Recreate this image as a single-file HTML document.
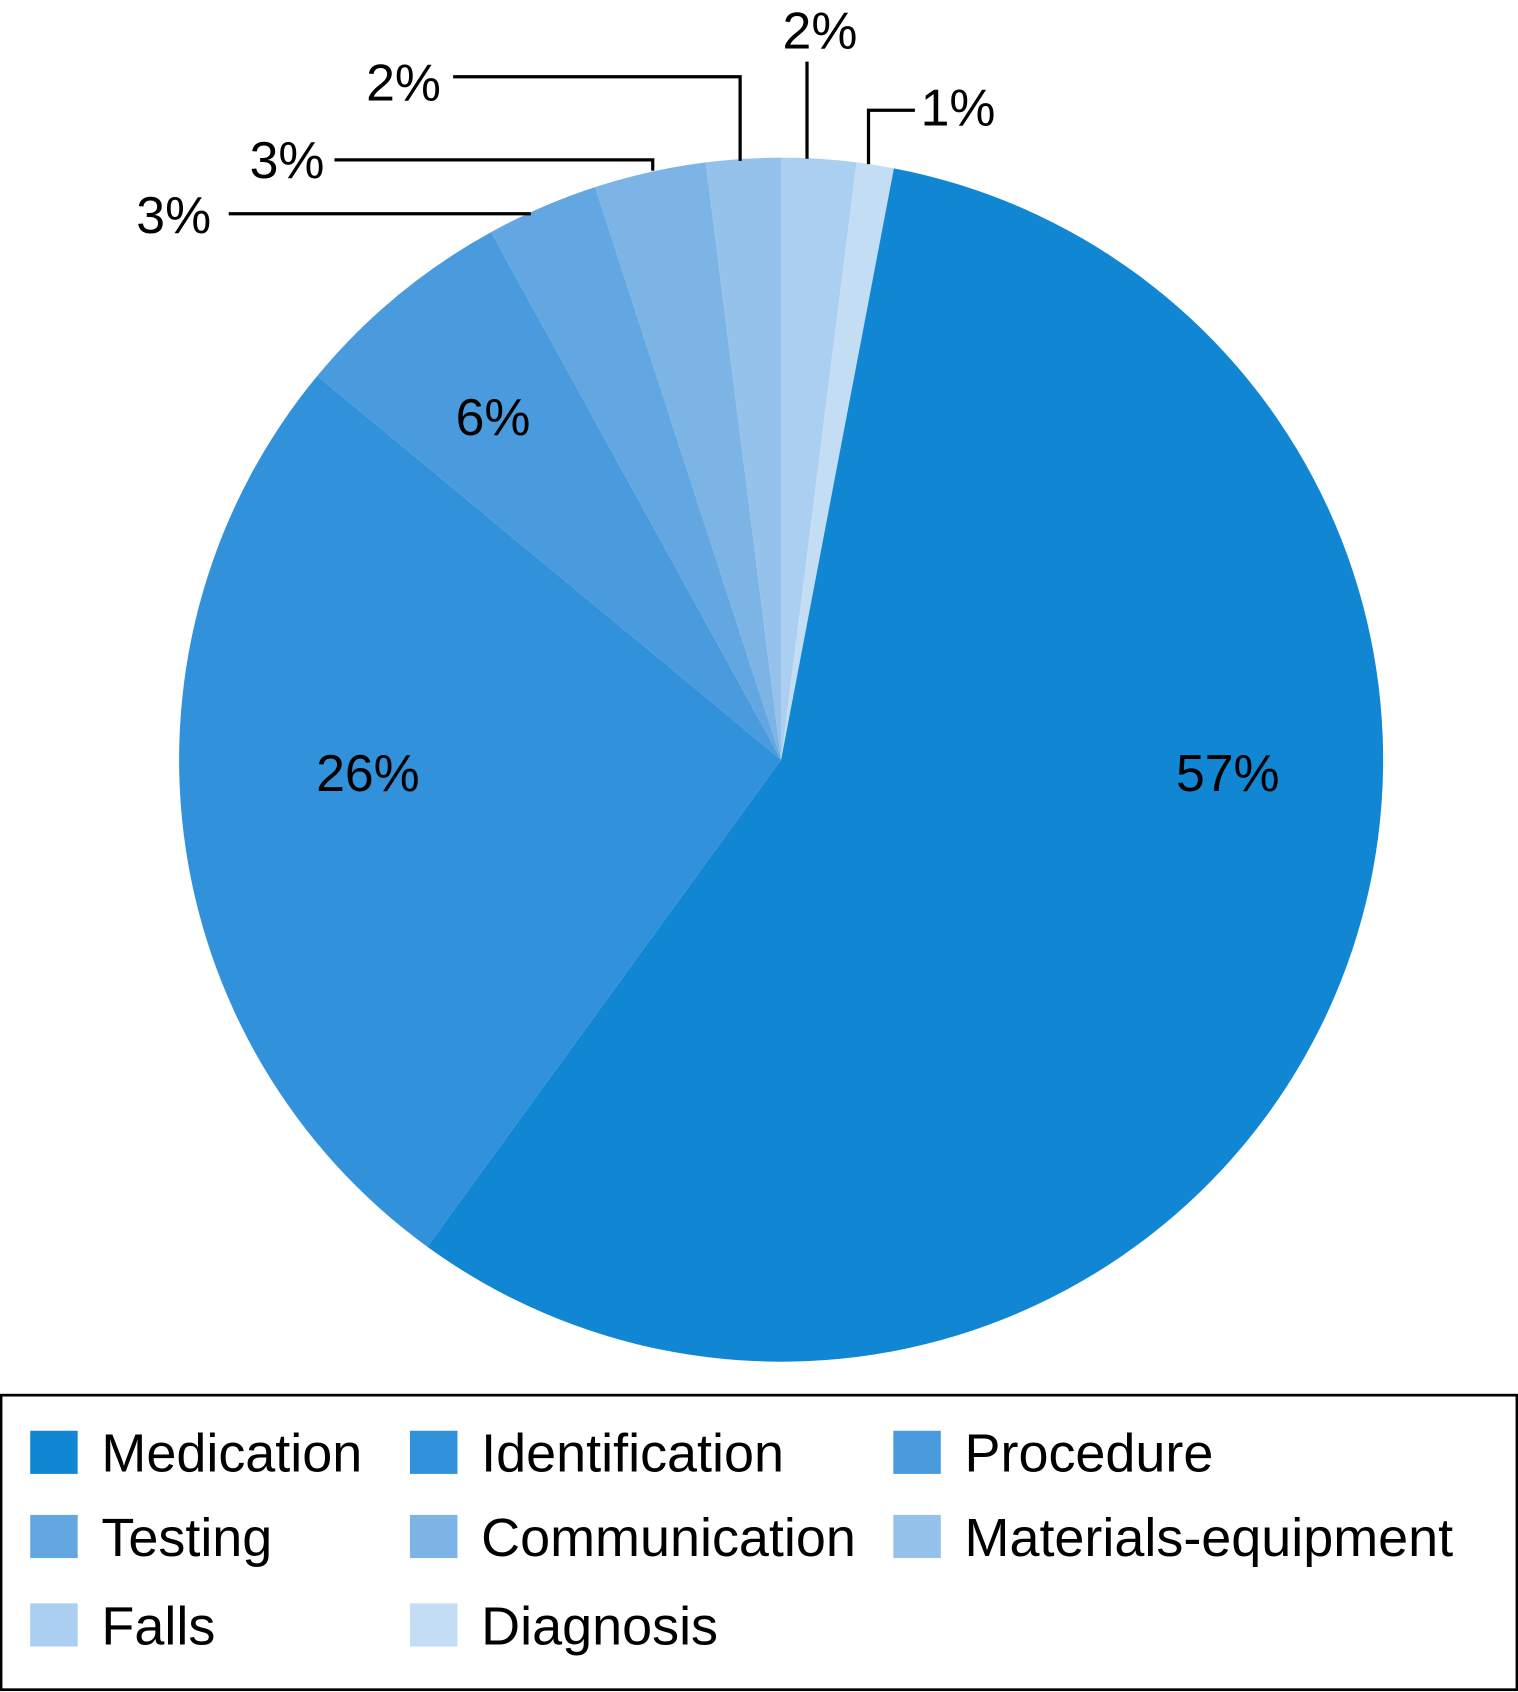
<!DOCTYPE html>
<html><head><meta charset="utf-8"><style>
html,body{margin:0;padding:0;background:#fff;}
svg{display:block;font-family:"Liberation Sans",sans-serif;}
</style></head><body>
<svg id="chart" width="1518" height="1692" viewBox="0 0 1407 1568" xmlns="http://www.w3.org/2000/svg">
<g id="slices"></g>
<g id="labels"></g>
<g fill="none" stroke="#000" stroke-width="3">
<polyline points="748,57 748,147"/>
<polyline points="848,102 805,102 805,152"/>
<polyline points="420,71 686,71 686,149"/>
<polyline points="310,148 605,148 605,158"/>
<polyline points="212,198 492,198"/>
</g>
<rect x="1" y="1293" width="1405" height="273" fill="none" stroke="#000" stroke-width="2.5"/>
<g id="legend"></g>
</svg>
<script>
const categories=["Falls","Diagnosis","Medication","Identification","Procedure","Testing","Communication","Materials-equipment"];
const values=[2,1,57,26,6,3,3,2];
const colors=["#abcff0","#c3ddf4","#1187d4","#3291db","#4a9bdd","#62a7e1","#7cb4e6","#95c2ea"];
const legendOrder=["Medication","Identification","Procedure","Testing","Communication","Materials-equipment","Falls","Diagnosis"];
const insideLabels={"Medication":[1138,733],"Identification":[341,733],"Procedure":[457,403]};
const outsideLabels={"Falls":[760,45],"Diagnosis":[888,116],"Materials-equipment":[374,93],"Communication":[266,165],"Testing":[161,216]};
const NS="http://www.w3.org/2000/svg";
const cx=724,cy=704,r=558;
const total=values.reduce((a,b)=>a+b,0);
function pt(a){return [cx+r*Math.sin(a),cy-r*Math.cos(a)];}
const sg=document.getElementById('slices'),lg=document.getElementById('labels');
let acc=0;
values.forEach((v,i)=>{
  const a0=acc/total*2*Math.PI;acc+=v;const a1=acc/total*2*Math.PI;
  const p0=pt(a0),p1=pt(a1);const large=(a1-a0)>Math.PI?1:0;
  const p=document.createElementNS(NS,'path');
  p.setAttribute('d',`M${cx},${cy}L${p0[0]},${p0[1]}A${r},${r} 0 ${large} 1 ${p1[0]},${p1[1]}Z`);
  p.setAttribute('fill',colors[i]);
  
  
  sg.appendChild(p);
  const pos=insideLabels[categories[i]]||outsideLabels[categories[i]];
  if(pos){
    const t=document.createElementNS(NS,'text');
    t.setAttribute('x',pos[0]);t.setAttribute('y',pos[1]);
    t.setAttribute('text-anchor','middle');t.setAttribute('font-size','48');
    t.textContent=v+'%';
    
    
    lg.appendChild(t);
  }
});
const leg=document.getElementById('legend');
const colX=[28,380,828],rowY=[1326,1404,1486];
legendOrder.forEach((c,k)=>{
  const col=k%3,row=Math.floor(k/3);
  const rc=document.createElementNS(NS,'rect');
  rc.setAttribute('x',colX[col]);rc.setAttribute('y',rowY[row]);
  rc.setAttribute('width',44);rc.setAttribute('height',40);
  rc.setAttribute('fill',colors[categories.indexOf(c)]);
  
  
  leg.appendChild(rc);
  const t=document.createElementNS(NS,'text');
  t.setAttribute('x',colX[col]+66);t.setAttribute('y',rowY[row]+38);
  t.setAttribute('font-size','50');t.textContent=c;
  
  
  leg.appendChild(t);
});
</script>
</body></html>
